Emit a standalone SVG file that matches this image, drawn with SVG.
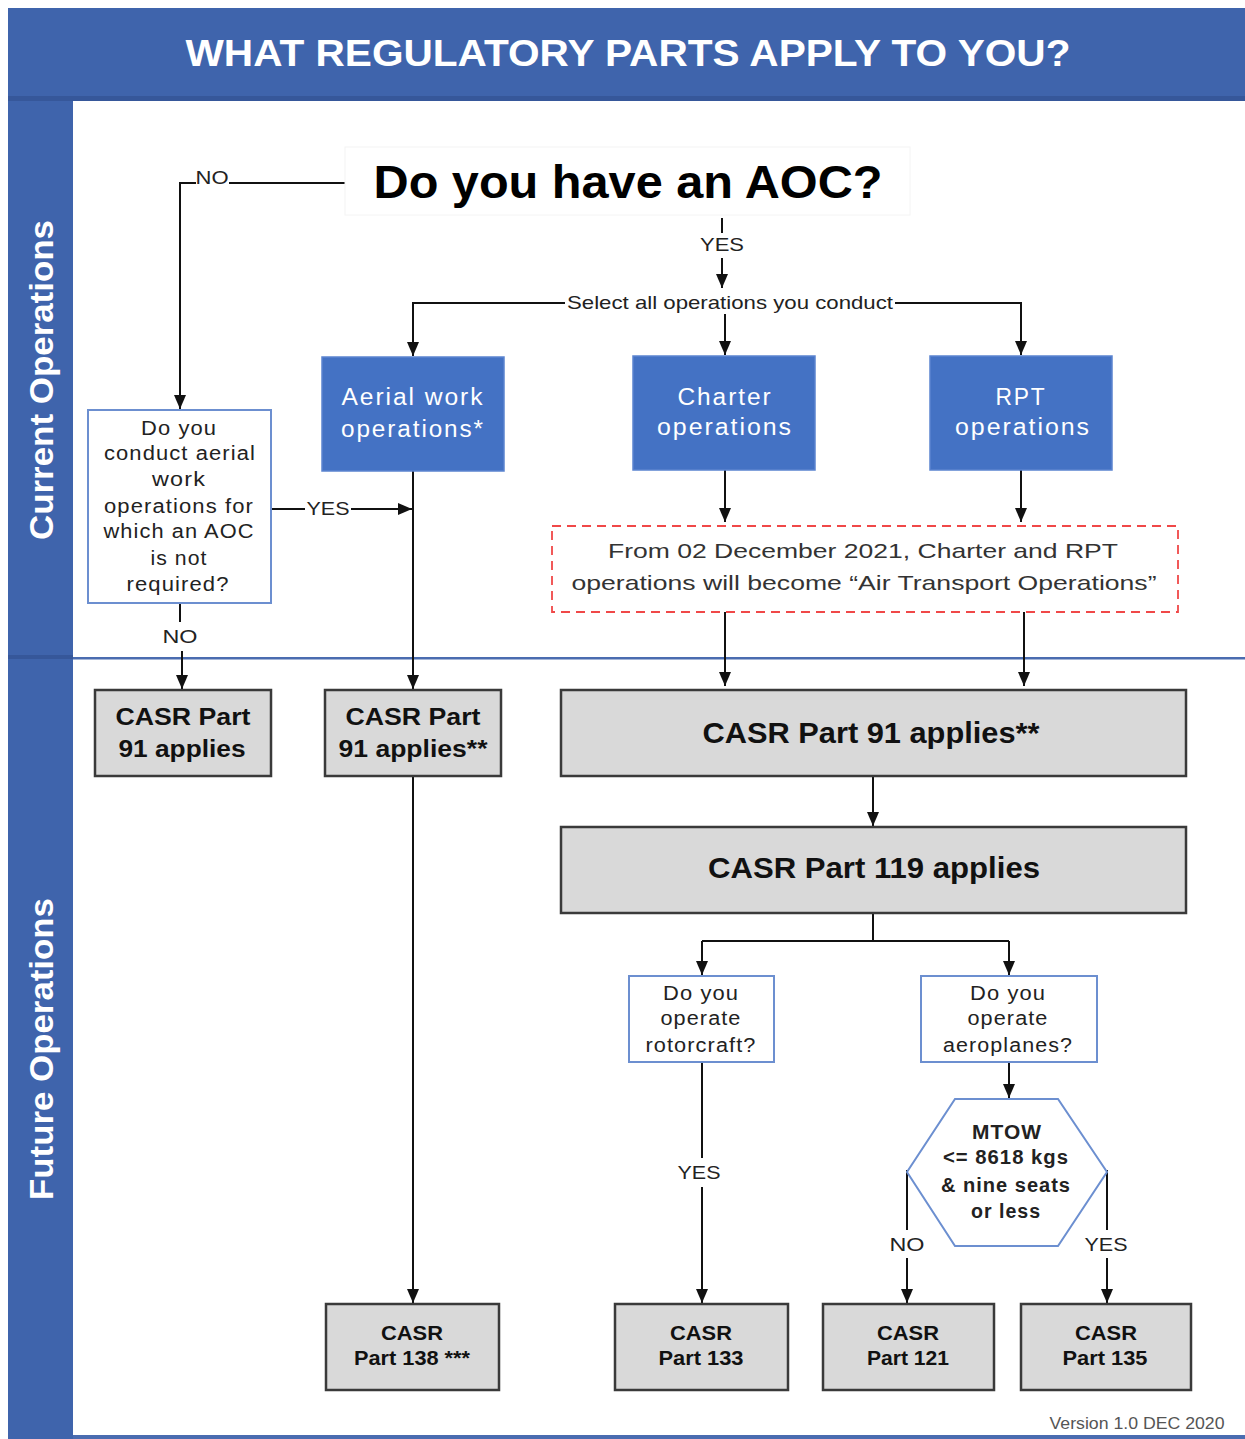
<svg xmlns="http://www.w3.org/2000/svg" width="1245" height="1439" viewBox="0 0 1245 1439">
<style>
text{font-family:"Liberation Sans",Arial,sans-serif;text-anchor:middle}
.band{fill:#3F64AC}
.blue rect{fill:#4472C4;stroke:#5B84CF;stroke-width:1.5}
.blue text{fill:#fff;font-size:23px;letter-spacing:1.8px}
.q rect,.q polygon{fill:#fff;stroke:#6C8FD0;stroke-width:2}
.q text{fill:#222;font-size:20px;letter-spacing:1px}
.g rect{fill:#D9D9D9;stroke:#3A3A3A;stroke-width:2.5}
.g text{fill:#111;font-weight:bold}
.lbl{font-size:19px;fill:#222}
.con path{fill:none;stroke:#111;stroke-width:2}
</style>
<defs>
<marker id="ah" viewBox="0 0 14 12" refX="14" refY="6" markerWidth="14" markerHeight="12" markerUnits="userSpaceOnUse" orient="auto">
<path d="M0,0 L14,6 L0,12 z" fill="#111"/>
</marker>
</defs>
<rect x="0" y="0" width="1245" height="1439" fill="#fff"/>
<g id="header">
<rect class="band" x="8" y="8" width="1237" height="93"/>
<rect x="8" y="96" width="1237" height="5" fill="#36579A"/>
<text x="628" y="66" fill="#fff" font-size="36" font-weight="bold" textLength="885" lengthAdjust="spacingAndGlyphs">WHAT REGULATORY PARTS APPLY TO YOU?</text>
</g>
<g id="lanes">
<rect class="band" x="8" y="101" width="65" height="1338"/>
<rect x="8" y="655" width="65" height="4" fill="#36579A"/>
<rect x="73" y="657" width="1172" height="2.5" fill="#4A6CB0"/>
<rect x="73" y="1435" width="1172" height="4" fill="#4A6CB0"/>
<text transform="translate(53,380) rotate(-90)" fill="#fff" font-size="34" font-weight="bold" textLength="320" lengthAdjust="spacingAndGlyphs">Current Operations</text>
<text transform="translate(53,1049) rotate(-90)" fill="#fff" font-size="34" font-weight="bold" textLength="302" lengthAdjust="spacingAndGlyphs">Future Operations</text>
</g>
<g class="con" id="connectors">
<path d="M345,183 H229 M196,183 H180 V409" marker-end="url(#ah)"/>
<path d="M722,218 V233"/>
<path d="M722,258 V288" marker-end="url(#ah)"/>
<path d="M565,303 H413 V356" marker-end="url(#ah)"/>
<path d="M895,303 H1021 V355" marker-end="url(#ah)"/>
<path d="M725,314 V355" marker-end="url(#ah)"/>
<path d="M271,509 H305"/>
<path d="M351,509 H412" marker-end="url(#ah)"/>
<path d="M413,471 V689" marker-end="url(#ah)"/>
<path d="M180,603 V622"/>
<path d="M182,651 V689" marker-end="url(#ah)"/>
<path d="M413,776 V1303" marker-end="url(#ah)"/>
<path d="M725,470 V522" marker-end="url(#ah)"/>
<path d="M1021,470 V522" marker-end="url(#ah)"/>
<path d="M725,612 V686" marker-end="url(#ah)"/>
<path d="M1024,612 V686" marker-end="url(#ah)"/>
<path d="M873,776 V826" marker-end="url(#ah)"/>
<path d="M873,913 V941 M702,941 H1009"/>
<path d="M702,941 V975" marker-end="url(#ah)"/>
<path d="M1009,941 V975" marker-end="url(#ah)"/>
<path d="M702,1062 V1158"/>
<path d="M702,1187 V1303" marker-end="url(#ah)"/>
<path d="M1009,1062 V1098" marker-end="url(#ah)"/>
<path d="M907,1170 V1230"/>
<path d="M907,1258 V1303" marker-end="url(#ah)"/>
<path d="M1107,1170 V1230"/>
<path d="M1107,1258 V1303" marker-end="url(#ah)"/>
<text class="lbl" x="212" y="184" textLength="33" lengthAdjust="spacingAndGlyphs">NO</text>
<text class="lbl" x="722" y="251" textLength="44" lengthAdjust="spacingAndGlyphs">YES</text>
<text class="lbl" x="730" y="309" textLength="326" lengthAdjust="spacingAndGlyphs">Select all operations you conduct</text>
<text class="lbl" x="328" y="515" textLength="43" lengthAdjust="spacingAndGlyphs">YES</text>
<text class="lbl" x="180" y="643" textLength="35" lengthAdjust="spacingAndGlyphs">NO</text>
<text class="lbl" x="699" y="1179" textLength="43" lengthAdjust="spacingAndGlyphs">YES</text>
<text class="lbl" x="907" y="1251" textLength="35" lengthAdjust="spacingAndGlyphs">NO</text>
<text class="lbl" x="1106" y="1251" textLength="43" lengthAdjust="spacingAndGlyphs">YES</text>
</g>
<g id="aoc">
<rect x="345" y="147" width="565" height="68" fill="#fff" stroke="#f4f4f4"/>
<text x="628" y="198" font-size="46" font-weight="bold" fill="#000" textLength="509" lengthAdjust="spacingAndGlyphs">Do you have an AOC?</text>
</g>
<g id="aerial" class="blue">
<rect x="322" y="357" width="182" height="114"/>
<text x="413" y="405" textLength="143" lengthAdjust="spacingAndGlyphs">Aerial work</text>
<text x="413" y="437" textLength="144" lengthAdjust="spacingAndGlyphs">operations*</text>
</g>
<g id="charter" class="blue">
<rect x="633" y="356" width="182" height="114"/>
<text x="725" y="405" textLength="95" lengthAdjust="spacingAndGlyphs">Charter</text>
<text x="725" y="435" textLength="136" lengthAdjust="spacingAndGlyphs">operations</text>
</g>
<g id="rpt" class="blue">
<rect x="930" y="356" width="182" height="114"/>
<text x="1021" y="405" textLength="51" lengthAdjust="spacingAndGlyphs">RPT</text>
<text x="1023" y="435" textLength="136" lengthAdjust="spacingAndGlyphs">operations</text>
</g>
<g id="q-aerial" class="q">
<rect x="88" y="410" width="183" height="193"/>
<text x="179" y="435" textLength="76" lengthAdjust="spacingAndGlyphs">Do you</text>
<text x="180" y="460" textLength="152" lengthAdjust="spacingAndGlyphs">conduct aerial</text>
<text x="179" y="486" textLength="54" lengthAdjust="spacingAndGlyphs">work</text>
<text x="179" y="513" textLength="150" lengthAdjust="spacingAndGlyphs">operations for</text>
<text x="179" y="538" textLength="151" lengthAdjust="spacingAndGlyphs">which an AOC</text>
<text x="179" y="565" textLength="57" lengthAdjust="spacingAndGlyphs">is not</text>
<text x="178" y="591" textLength="103" lengthAdjust="spacingAndGlyphs">required?</text>
</g>
<g id="note">
<rect x="552" y="526" width="626" height="86" fill="#fff" stroke="#F04848" stroke-width="1.8" stroke-dasharray="9,6"/>
<text x="863" y="558" font-size="21" fill="#333" textLength="510" lengthAdjust="spacingAndGlyphs">From  02 December 2021, Charter and RPT</text>
<text x="864" y="590" font-size="21" fill="#333" textLength="585" lengthAdjust="spacingAndGlyphs">operations will become “Air Transport Operations”</text>
</g>
<g id="p91-left" class="g">
<rect x="95" y="690" width="176" height="86"/>
<text x="183" y="725" font-size="23" textLength="135" lengthAdjust="spacingAndGlyphs">CASR Part</text>
<text x="182" y="757" font-size="23" textLength="127" lengthAdjust="spacingAndGlyphs">91 applies</text>
</g>
<g id="p91-aerial" class="g">
<rect x="325" y="690" width="176" height="86"/>
<text x="413" y="725" font-size="23" textLength="135" lengthAdjust="spacingAndGlyphs">CASR Part</text>
<text x="413" y="757" font-size="23" textLength="149" lengthAdjust="spacingAndGlyphs">91 applies**</text>
</g>
<g id="p91" class="g">
<rect x="561" y="690" width="625" height="86"/>
<text x="871" y="743" font-size="30" textLength="337" lengthAdjust="spacingAndGlyphs">CASR Part 91 applies**</text>
</g>
<g id="p119" class="g">
<rect x="561" y="827" width="625" height="86"/>
<text x="874" y="878" font-size="30" textLength="332" lengthAdjust="spacingAndGlyphs">CASR Part 119 applies</text>
</g>
<g id="q-rotor" class="q">
<rect x="629" y="976" width="145" height="86"/>
<text x="701" y="1000" textLength="76" lengthAdjust="spacingAndGlyphs">Do you</text>
<text x="701" y="1025" textLength="81" lengthAdjust="spacingAndGlyphs">operate</text>
<text x="701" y="1052" textLength="111" lengthAdjust="spacingAndGlyphs">rotorcraft?</text>
</g>
<g id="q-aero" class="q">
<rect x="921" y="976" width="176" height="86"/>
<text x="1008" y="1000" textLength="76" lengthAdjust="spacingAndGlyphs">Do you</text>
<text x="1008" y="1025" textLength="81" lengthAdjust="spacingAndGlyphs">operate</text>
<text x="1008" y="1052" textLength="130" lengthAdjust="spacingAndGlyphs">aeroplanes?</text>
</g>
<g id="mtow" class="q">
<polygon points="955,1099 1058,1099 1107,1172 1058,1246 955,1246 907,1172"/>
<text x="1007" y="1139" font-weight="bold" textLength="70" lengthAdjust="spacingAndGlyphs">MTOW</text>
<text x="1006" y="1164" font-weight="bold" textLength="126" lengthAdjust="spacingAndGlyphs">&lt;= 8618 kgs</text>
<text x="1006" y="1192" font-weight="bold" textLength="130" lengthAdjust="spacingAndGlyphs">&amp; nine seats</text>
<text x="1006" y="1218" font-weight="bold" textLength="70" lengthAdjust="spacingAndGlyphs">or less</text>
</g>
<g id="p138" class="g">
<rect x="326" y="1304" width="173" height="86"/>
<text x="412" y="1340" font-size="20" textLength="62" lengthAdjust="spacingAndGlyphs">CASR</text>
<text x="412" y="1365" font-size="20" textLength="116" lengthAdjust="spacingAndGlyphs">Part 138 ***</text>
</g>
<g id="p133" class="g">
<rect x="615" y="1304" width="173" height="86"/>
<text x="701" y="1340" font-size="20" textLength="62" lengthAdjust="spacingAndGlyphs">CASR</text>
<text x="701" y="1365" font-size="20" textLength="85" lengthAdjust="spacingAndGlyphs">Part 133</text>
</g>
<g id="p121" class="g">
<rect x="823" y="1304" width="171" height="86"/>
<text x="908" y="1340" font-size="20" textLength="62" lengthAdjust="spacingAndGlyphs">CASR</text>
<text x="908" y="1365" font-size="20" textLength="82" lengthAdjust="spacingAndGlyphs">Part 121</text>
</g>
<g id="p135" class="g">
<rect x="1021" y="1304" width="170" height="86"/>
<text x="1106" y="1340" font-size="20" textLength="62" lengthAdjust="spacingAndGlyphs">CASR</text>
<text x="1105" y="1365" font-size="20" textLength="85" lengthAdjust="spacingAndGlyphs">Part 135</text>
</g>
<text x="1137" y="1429" font-size="16" fill="#555" textLength="175" lengthAdjust="spacingAndGlyphs">Version 1.0 DEC 2020</text>
</svg>
